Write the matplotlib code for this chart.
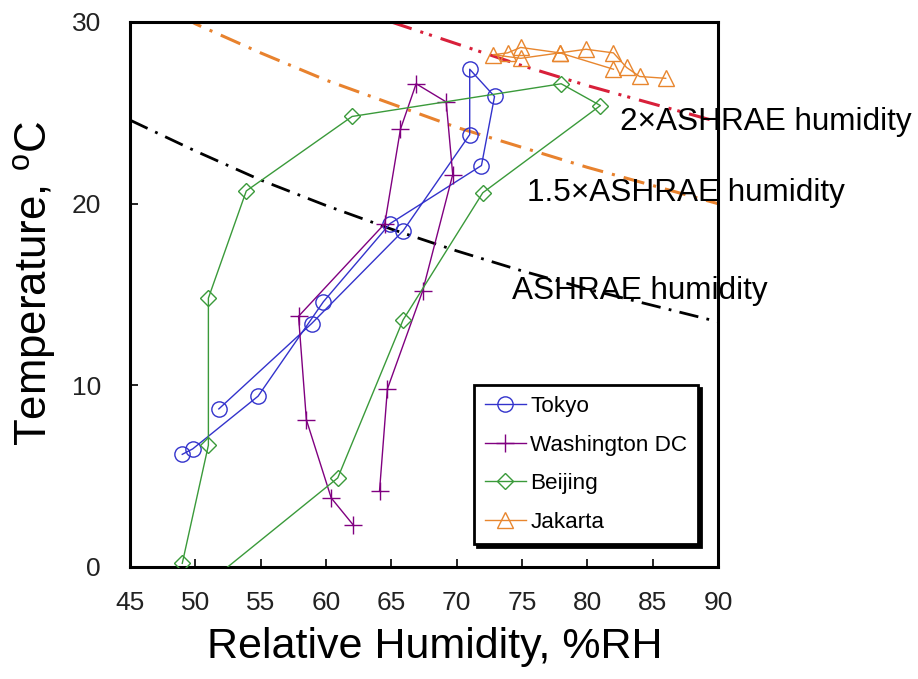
import matplotlib.pyplot as plt

plt.rcParams['font.family'] = ['Liberation Sans', 'DejaVu Sans']
plt.rcParams['mathtext.fontset'] = 'custom'
plt.rcParams['mathtext.rm'] = 'Liberation Sans'

# monthly climate (RH %, temperature C)
tokyo_rh = [49.0, 49.8, 54.8, 59.8, 64.9, 71.9, 72.9, 71.0, 71.0, 65.9, 58.9, 51.8]
tokyo_t = [6.2, 6.5, 9.4, 14.6, 18.9, 22.1, 25.9, 27.4, 23.8, 18.5, 13.4, 8.7]

dc_rh = [62.1, 60.4, 58.5, 57.9, 64.5, 65.7, 66.9, 69.2, 69.7, 67.4, 64.7, 64.1]
dc_t = [2.3, 3.8, 8.1, 13.8, 18.9, 24.1, 26.6, 25.6, 21.6, 15.2, 9.8, 4.2]

beijing_rh = [49.0, 51.0, 51.0, 53.9, 62.0, 78.0, 81.0, 72.0, 65.9, 60.9, 49.9]
beijing_t = [0.2, 6.7, 14.8, 20.7, 24.8, 26.6, 25.4, 20.6, 13.6, 4.9, -1.5]

jakarta_rh = [86.0, 84.0, 83.0, 82.0, 79.9, 77.9, 74.9, 72.8, 73.9, 74.9, 77.9, 82.0]
jakarta_t = [26.9, 27.0, 27.5, 28.3, 28.5, 28.3, 28.0, 28.2, 28.3, 28.6, 28.3, 27.4]

# humidity limit curves
ashrae_rh = [45, 50, 55, 60, 65, 70, 75, 80, 85, 90]
ashrae_t = [24.6, 22.9, 21.3, 19.9, 18.6, 17.4, 16.3, 15.3, 14.4, 13.5]
ashrae15_rh = [49, 50, 55, 60, 65, 70, 75, 80, 85, 90]
ashrae15_t = [30.3, 29.9, 28.3, 26.8, 25.5, 24.2, 23.1, 22.0, 21.0, 20.0]
ashrae2_rh = [65, 70, 75, 80, 85, 90]
ashrae2_t = [30.0, 28.8, 27.6, 26.5, 25.5, 24.5]

fig = plt.figure(figsize=(9.18, 6.79), dpi=100)
ax = fig.add_axes([0.1416, 0.165, 0.6405, 0.8026])

ax.plot(ashrae_rh, ashrae_t, color='black', lw=2, ls=(0, (7, 3, 1, 3)), zorder=1)
ax.plot(ashrae15_rh, ashrae15_t, color='#E8822E', lw=2.2, ls=(0, (7, 3, 1, 3)), zorder=1)
ax.plot(ashrae2_rh, ashrae2_t, color='#D8203A', lw=2.2, ls=(0, (7, 3, 1, 2, 1, 3)), zorder=1)

ax.plot(tokyo_rh, tokyo_t, color='#3333CC', lw=1, marker='o', ms=11,
        mfc='none', mew=1, label='Tokyo', zorder=3)
ax.plot(dc_rh, dc_t, color='#800080', lw=1, marker='+', ms=13,
        mew=1, label='Washington DC', zorder=3)
ax.plot(beijing_rh, beijing_t, color='#3A9A3A', lw=1, marker='D', ms=8,
        mfc='none', mew=1, label='Beijing', zorder=3)
ax.plot(jakarta_rh, jakarta_t, color='#E8862E', lw=1, marker='^', ms=11,
        mfc='none', mew=1, label='Jakarta', zorder=3)

ax.text(82.5, 24.5, '2×ASHRAE humidity', fontsize=22.7, va='center', clip_on=False)
ax.text(75.4, 20.6, '1.5×ASHRAE humidity', fontsize=22.7, va='center', clip_on=False)
ax.text(74.2, 15.2, 'ASHRAE humidity', fontsize=22.7, va='center', clip_on=False)

ax.set_xlim(45, 90)
ax.set_ylim(0, 30)
ax.set_xticks(range(45, 91, 5))
ax.set_yticks([0, 10, 20, 30])
ax.tick_params(direction='in', length=6, width=1.2, labelsize=19, labelcolor='#222222')
ax.tick_params(axis='y', pad=21)
ax.tick_params(axis='x', pad=17)
for s in ax.spines.values():
    s.set_linewidth(2.2)

ax.set_xlabel('Relative Humidity, %RH', fontsize=31)
ax.set_ylabel('Temperature, $^{\\mathregular{o}}$C', fontsize=31.5)
ax.xaxis.set_label_coords(0.519, -0.11)
ax.yaxis.set_label_coords(-0.122, 0.52)

leg = ax.legend(loc='lower left', bbox_to_anchor=(0.585, 0.042), borderaxespad=0,
                fontsize=16.2, fancybox=False, edgecolor='black', framealpha=1,
                handlelength=1.8, labelspacing=0.78, handletextpad=0.2,
                borderpad=0.5, shadow={'color': 'black', 'alpha': 1})
leg.get_frame().set_linewidth(2)

fig.savefig('out.png', dpi=100)
